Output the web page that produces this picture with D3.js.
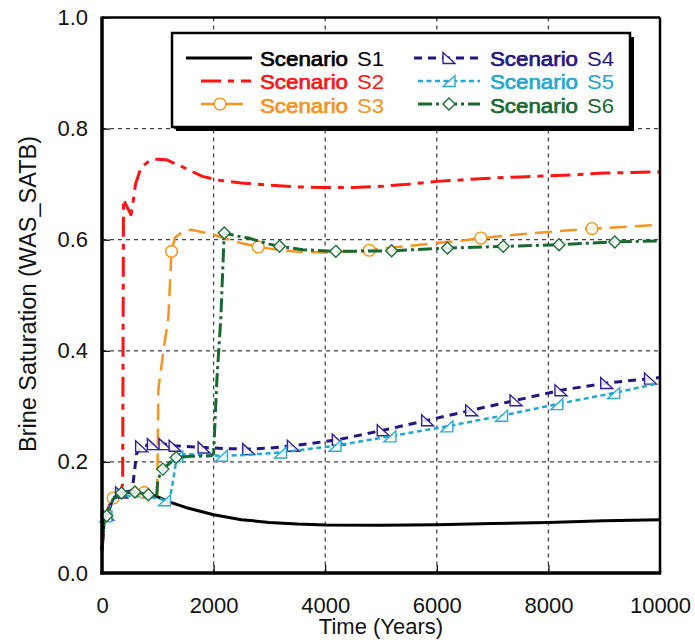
<!DOCTYPE html>
<html>
<head>
<meta charset="utf-8">
<script src="https://cdn.jsdelivr.net/npm/d3@7"></script>
<style>
  body { margin: 0; background: #fff; }
  svg { display: block; font-family: "Liberation Sans", Arial, sans-serif; }
</style>
</head>
<body>
<svg id="chart" width="695" height="640"></svg>
<script>
// ---------- data ----------
const xTicks = [0, 2000, 4000, 6000, 8000, 10000];
const yTicks = [0.0, 0.2, 0.4, 0.6, 0.8, 1.0];
const seriesNames = ["Scenario S1", "Scenario S2", "Scenario S3", "Scenario S4", "Scenario S5", "Scenario S6"];

const s1Time  = [0, 40, 200, 400, 700, 900, 1000, 1200, 1500, 2000, 2500, 3000, 3500, 4000, 5000, 6000, 7000, 8000, 9000, 10000];
const s1Value = [0.04, 0.10, 0.135, 0.145, 0.145, 0.141, 0.137, 0.128, 0.118, 0.105, 0.096, 0.091, 0.088, 0.0865, 0.086, 0.087, 0.089, 0.091, 0.094, 0.096];

const s2Time  = [0, 40, 200, 330, 370, 385, 420, 520, 560, 600, 700, 850, 1000, 1150, 1400, 1800, 2100, 2500, 3000, 3500, 4000, 4500, 5000, 5500, 6000, 6500, 7000, 7500, 8000, 8500, 9000, 9500, 10000];
const s2Value = [0.04, 0.10, 0.135, 0.145, 0.16, 0.673, 0.665, 0.645, 0.67, 0.70, 0.73, 0.742, 0.745, 0.744, 0.733, 0.714, 0.707, 0.702, 0.698, 0.695, 0.694, 0.694, 0.696, 0.70, 0.705, 0.708, 0.711, 0.713, 0.715, 0.717, 0.72, 0.721, 0.722];

const s3Time  = [0, 40, 200, 300, 600, 760, 990, 1010, 1100, 1190, 1245, 1310, 1450, 1600, 2000, 2400, 2800, 3200, 3600, 4000, 4500, 4790, 5000, 5500, 6000, 6500, 6790, 7000, 7500, 8000, 8500, 8780, 9000, 9500, 10000];
const s3Value = [0.04, 0.10, 0.135, 0.145, 0.147, 0.145, 0.142, 0.33, 0.40, 0.46, 0.579, 0.604, 0.615, 0.618, 0.609, 0.596, 0.587, 0.581, 0.578, 0.577, 0.579, 0.581, 0.584, 0.589, 0.594, 0.599, 0.603, 0.605, 0.61, 0.614, 0.618, 0.620, 0.621, 0.624, 0.627];
const s3Markers = [200, 760, 1245, 2800, 4790, 6790, 8780];

const s4Time  = [0, 40, 100, 200, 350, 540, 620, 710, 920, 1130, 1310, 1830, 2200, 2630, 3000, 3430, 4235, 5040, 5835, 6625, 7420, 8225, 9045, 9830, 10000];
const s4Value = [0.04, 0.10, 0.105, 0.135, 0.145, 0.148, 0.215, 0.228, 0.232, 0.232, 0.229, 0.226, 0.224, 0.223, 0.225, 0.229, 0.24, 0.257, 0.275, 0.293, 0.311, 0.329, 0.342, 0.35, 0.352];
const s4Markers = [100, 350, 710, 920, 1130, 1310, 1830, 2630, 3430, 4235, 5040, 5835, 6625, 7420, 8225, 9045, 9830];

const s5Time  = [0, 40, 70, 200, 300, 600, 1000, 1120, 1210, 1280, 1340, 1450, 1700, 2140, 2500, 3200, 4175, 5160, 6180, 7160, 8150, 9170, 10000];
const s5Value = [0.04, 0.10, 0.102, 0.133, 0.14, 0.138, 0.135, 0.131, 0.13, 0.17, 0.21, 0.214, 0.213, 0.211, 0.212, 0.217, 0.229, 0.246, 0.264, 0.283, 0.304, 0.324, 0.342];
const s5Markers = [70, 1120, 1340, 2140, 3200, 4175, 5160, 6180, 7160, 8150, 9170];

const s6Time  = [0, 40, 84, 200, 350, 590, 830, 980, 1000, 1090, 1330, 1600, 1960, 2000, 2060, 2130, 2190, 2400, 2620, 3000, 3180, 3600, 4190, 5190, 6190, 7190, 8190, 9190, 10000];
const s6Value = [0.04, 0.10, 0.103, 0.133, 0.144, 0.146, 0.141, 0.14, 0.168, 0.187, 0.208, 0.21, 0.211, 0.215, 0.35, 0.46, 0.612, 0.607, 0.603, 0.592, 0.588, 0.582, 0.579, 0.580, 0.585, 0.588, 0.591, 0.596, 0.598];
const s6Markers = [84, 350, 590, 830, 1090, 1330, 2190, 3180, 4190, 5190, 6190, 7190, 8190, 9190];

// ---------- styles ----------
const styles = [
  { color: "#000000", width: 3,   dash: null,        marker: null },
  { color: "#ff1414", width: 3,   dash: "20,7,6,7",  marker: null },
  { color: "#f7931e", width: 2.5, dash: "17,8",      marker: "circle" },
  { color: "#231682", width: 3,   dash: "8,6",       marker: "triL" },
  { color: "#1fa7d2", width: 2.5, dash: "5,3.5",     marker: "triR" },
  { color: "#17692f", width: 3,   dash: "14,4,3,4",  marker: "diamond" }
];
const markerStroke = ["#000", "#ff1414", "#f7931e", "#2e1f9a", "#2aaad6", "#1d6e35"];

const series = [
  { t: s1Time, v: s1Value, m: [] },
  { t: s2Time, v: s2Value, m: [] },
  { t: s3Time, v: s3Value, m: s3Markers },
  { t: s4Time, v: s4Value, m: s4Markers },
  { t: s5Time, v: s5Value, m: s5Markers },
  { t: s6Time, v: s6Value, m: s6Markers }
];

// ---------- layout ----------
const svg = d3.select("#chart");
const L = 102, R = 660, T = 17.5, B = 573;
const x = d3.scaleLinear().domain([0, 10000]).range([L, R]);
const y = d3.scaleLinear().domain([0, 1]).range([B, T]);

// gridlines
const grid = svg.append("g");
grid.selectAll(".gx").data(xTicks.slice(1, -1)).join("line")
  .attr("x1", d => x(d)).attr("x2", d => x(d)).attr("y1", T).attr("y2", B)
  .attr("stroke", "#444").attr("stroke-width", 1.3).attr("stroke-dasharray", "4,4");
grid.selectAll(".gy").data(yTicks.slice(1, -1)).join("line")
  .attr("x1", L).attr("x2", R).attr("y1", d => y(d)).attr("y2", d => y(d))
  .attr("stroke", "#444").attr("stroke-width", 1.3).attr("stroke-dasharray", "4,4");

// marker path generator
function markerPath(type) {
  switch (type) {
    case "circle": return d3.symbol(d3.symbolCircle, 110)();
    case "diamond": return "M0,-6L6,0L0,6L-6,0Z";
    case "triL": return "M-6,-5.5L-6,5.5L6,5.5Z";
    case "triR": return "M6,-5.5L6,5.5L-6,5.5Z";
  }
  return null;
}

const line = d3.line().x(d => x(d[0])).y(d => y(d[1]));
const plot = svg.append("g");
series.forEach((s, i) => {
  const pts = s.t.map((t, k) => [t, s.v[k]]);
  const st = styles[i];
  plot.append("path").datum(pts)
    .attr("d", line).attr("fill", "none")
    .attr("stroke", st.color).attr("stroke-width", st.width)
    .attr("stroke-linejoin", "round")
    .attr("stroke-dasharray", st.dash);
  if (st.marker) {
    const mk = s.m.map(t => [t, s.v[s.t.indexOf(t)]]);
    plot.selectAll(null).data(mk).join("path")
      .attr("transform", d => `translate(${x(d[0])},${y(d[1])})`)
      .attr("d", markerPath(st.marker))
      .attr("fill", "#fff").attr("fill-opacity", 0.85)
      .attr("stroke", markerStroke[i]).attr("stroke-width", 1.4);
  }
});

// frame
const frame = svg.append("g").attr("stroke", "#000").attr("fill", "none");
frame.append("line").attr("x1", L).attr("x2", R).attr("y1", T).attr("y2", T).attr("stroke-width", 2.5);
frame.append("line").attr("x1", R).attr("x2", R).attr("y1", T).attr("y2", B).attr("stroke-width", 2.5);
frame.append("line").attr("x1", L).attr("x2", L).attr("y1", T - 1).attr("y2", B + 1.5).attr("stroke-width", 3.5);
frame.append("line").attr("x1", L - 1.5).attr("x2", R + 1.2).attr("y1", B).attr("y2", B).attr("stroke-width", 3.5);

// axes via d3
const xAxis = d3.axisBottom(x).tickValues(xTicks).tickSizeInner(-8).tickSizeOuter(0).tickPadding(24).tickFormat(d3.format("d"));
const gx = svg.append("g").attr("transform", `translate(0,${B})`).call(xAxis);
gx.select(".domain").remove();
gx.selectAll("line").attr("stroke", "#000").attr("stroke-width", 1.2);
gx.selectAll("text").attr("font-size", 22).attr("fill", "#111").attr("font-family", "Liberation Sans, Arial, sans-serif");

const yAxis = d3.axisLeft(y).tickValues(yTicks).tickSizeInner(-8).tickSizeOuter(0).tickPadding(14).tickFormat(d3.format(".1f"));
const gy = svg.append("g").attr("transform", `translate(${L},0)`).call(yAxis);
gy.select(".domain").remove();
gy.selectAll("line").attr("stroke", "#000").attr("stroke-width", 1.2);
gy.selectAll("text").attr("font-size", 22).attr("fill", "#111").attr("font-family", "Liberation Sans, Arial, sans-serif");

// axis titles
svg.append("text").attr("x", 381).attr("y", 634).attr("text-anchor", "middle")
  .attr("font-size", 22).attr("fill", "#111").text("Time (Years)");
svg.append("text").attr("transform", "translate(36,294) rotate(-90)").attr("text-anchor", "middle")
  .attr("font-size", 23.5).attr("fill", "#111").text("Brine Saturation (WAS_SATB)");

// legend
const lg = svg.append("g");
lg.append("rect").attr("x", 176).attr("y", 37).attr("width", 458).attr("height", 94).attr("fill", "#000");
lg.append("rect").attr("x", 172).attr("y", 33).attr("width", 458).attr("height", 94)
  .attr("fill", "#fff").attr("stroke", "#000").attr("stroke-width", 2.5);

const legendPos = [
  { lx1: 186, lx2: 252, mx: 0,   tx: 260, ly: 58,  ty: 65.5 },
  { lx1: 201, lx2: 251, mx: 0,   tx: 260, ly: 81,  ty: 89 },
  { lx1: 201, lx2: 251, mx: 220, tx: 260, ly: 104, ty: 112.5 },
  { lx1: 414, lx2: 482, mx: 449, tx: 490, ly: 58,  ty: 65.5 },
  { lx1: 418, lx2: 480, mx: 449, tx: 490, ly: 81,  ty: 89 },
  { lx1: 418, lx2: 480, mx: 449, tx: 490, ly: 104, ty: 112.5 }
];
seriesNames.forEach((name, i) => {
  const p = legendPos[i], st = styles[i];
  lg.append("line").attr("x1", p.lx1).attr("x2", p.lx2).attr("y1", p.ly).attr("y2", p.ly)
    .attr("stroke", st.color).attr("stroke-width", st.width).attr("stroke-dasharray", st.dash);
  if (st.marker) {
    lg.append("path").attr("transform", `translate(${p.mx},${p.ly})`).attr("d", markerPath(st.marker))
      .attr("fill", "#fff").attr("stroke", markerStroke[i]).attr("stroke-width", 1.4);
  }
  const parts = name.split(" ");
  lg.append("text").attr("x", p.tx).attr("y", p.ty).attr("font-size", 20)
    .attr("textLength", 88).attr("lengthAdjust", "spacingAndGlyphs")
    .attr("fill", st.color).attr("stroke", st.color).attr("stroke-width", 0.7).text(parts[0]);
  lg.append("text").attr("x", p.tx + 97).attr("y", p.ty).attr("font-size", 20)
    .attr("textLength", 27).attr("lengthAdjust", "spacingAndGlyphs")
    .attr("fill", st.color).text(parts[1]);
});
</script>
</body>
</html>
